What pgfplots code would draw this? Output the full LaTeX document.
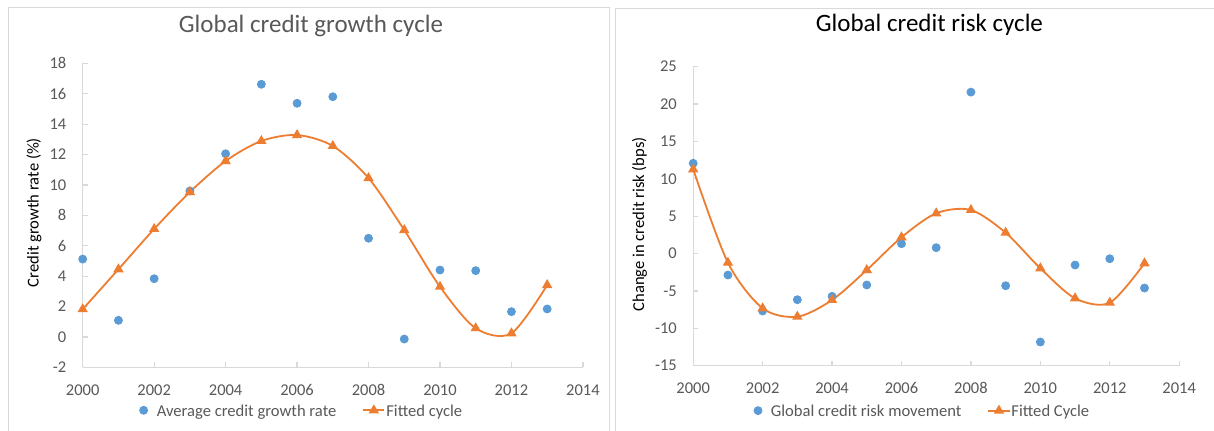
\documentclass[border=0pt]{standalone}
\usepackage{pgfplots}
\pgfplotsset{compat=1.18}
\usepackage{fontspec}
\setmainfont{Carlito}
\definecolor{cblue}{HTML}{5B9BD5}
\definecolor{corange}{HTML}{ED7D31}
\definecolor{tgray}{HTML}{595959}
\definecolor{lgray}{HTML}{D9D9D9}
\pgfplotsset{
  excel/.style={
    scale only axis,
    axis lines*=left,
    axis line style={lgray, line width=0.6pt},
    tick style={lgray, line width=0.6pt},
    tick align=inside,
    major tick length=2.5pt,
    xmin=2000, xmax=2014,
    xtick={2000,2002,...,2014},
    xticklabels={2000,2002,2004,2006,2008,2010,2012,2014},
    ticklabel style={font=\fontsize{8.25}{10}\selectfont, text=tgray},
    xticklabel style={anchor=base, inner sep=0pt, yshift=-13.85pt},
    yticklabel style={anchor=east, inner sep=0pt, xshift=-8pt},
    label style={font=\fontsize{8.3}{10}\selectfont, text=black},
    title style={font=\fontsize{12.5}{15}\selectfont, anchor=base, inner sep=0pt},
    ylabel style={anchor=base, inner sep=0pt},
    legend style={draw=none, fill=none, inner sep=0pt, anchor=west,
      legend columns=-1, font=\fontsize{8.3}{10}\selectfont, text=tgray,
      nodes={inner xsep=0.5pt, inner ysep=0pt},
      /tikz/every even column/.append style={column sep=12.5pt}},
    legend cell align=left,
    clip=false,
  },
  dots/.style={only marks, mark=*, mark size=2pt, color=cblue,
    mark options={draw=cblue, fill=cblue}},
  fit/.style={smooth, tension=0.5, line width=0.9pt, color=corange, mark=triangle*, mark size=2.1pt,
    mark options={draw=corange, fill=corange}},
}
\begin{document}
\begin{tikzpicture}
\useasboundingbox (0,0) rectangle (607pt,215pt);
\fill[white] (0,0) rectangle (607pt,215pt);
% chart area frames
\draw[lgray, line width=0.6pt] (4.1pt,-5pt) -- (4.1pt,211.35pt) -- (304.85pt,211.35pt) -- (304.85pt,-5pt);
\draw[lgray, line width=0.6pt] (307.65pt,-5pt) -- (307.65pt,210.65pt) -- (620pt,210.65pt);

\begin{axis}[excel,
  at={(41.35pt,31.35pt)}, anchor=south west,
  width=250.1pt, height=152pt,
  ymin=-2, ymax=18,
  ytick={-2,0,2,4,6,8,10,12,14,16,18},
  yticklabels={-2,0,2,4,6,8,10,12,14,16,18},
  title={Global credit growth cycle},
  title style={at={(axis description cs:0.4564,1.0625)}, text=tgray},
  ylabel={Credit growth rate (\%)},
  ylabel style={at={(axis description cs:-0.0883,0.509)}},
  legend style={at={(axis description cs:0.1122,-0.148)}},
]
\addplot[dots, legend image code/.code={\path (-2pt,0pt) (5.9pt,0pt);
  \draw[cblue, fill=cblue, mark=*, mark size=2pt, only marks] plot coordinates {(0pt,1pt)};}]
 coordinates {(2000,5.12)(2001,1.09)(2002,3.83)(2003,9.6)(2004,12.05)(2005,16.62)(2006,15.37)(2007,15.8)(2008,6.49)(2009,-0.14)(2010,4.4)(2011,4.36)(2012,1.66)(2013,1.84)};
\addlegendentry{Average credit growth rate}
\addplot[fit, legend image code/.code={\draw[corange, line width=0.9pt] (0pt,1pt) -- (10.6pt,1pt);
  \draw[corange, fill=corange, mark=triangle*, mark size=2.1pt, only marks] plot coordinates {(5.3pt,1pt)};}]
 coordinates {(2000,1.82)(2001,4.45)(2002,7.1)(2003,9.53)(2004,11.57)(2005,12.89)(2006,13.28)(2007,12.56)(2008,10.45)(2009,7.03)(2010,3.3)(2011,0.57)(2012,0.24)(2013,3.41)};
\addlegendentry{Fitted cycle}
\end{axis}

\begin{axis}[excel,
  at={(346.6pt,32.15pt)}, anchor=south west,
  width=243pt, height=149.5pt,
  ymin=-15, ymax=25,
  ytick={-15,-10,-5,0,5,10,15,20,25},
  yticklabels={-15,-10,-5,0,5,10,15,20,25},
  title={Global credit risk cycle},
  title style={at={(axis description cs:0.486,1.0783)}, text=black},
  ylabel={Change in credit risk (bps)},
  ylabel style={at={(axis description cs:-0.1008,0.473)}},
  legend style={at={(axis description cs:0.1235,-0.157)}},
]
\addplot[dots, legend image code/.code={\path (-2pt,0pt) (5.75pt,0pt);
  \draw[cblue, fill=cblue, mark=*, mark size=2pt, only marks] plot coordinates {(0pt,1pt)};}]
 coordinates {(2000,12.08)(2001,-2.87)(2002,-7.68)(2003,-6.17)(2004,-5.72)(2005,-4.2)(2006,1.32)(2007,0.79)(2008,21.6)(2009,-4.3)(2010,-11.83)(2011,-1.53)(2012,-0.69)(2013,-4.61)};
\addlegendentry{Global credit risk movement}
\addplot[fit, legend image code/.code={\draw[corange, line width=0.9pt] (0pt,1pt) -- (10.6pt,1pt);
  \draw[corange, fill=corange, mark=triangle*, mark size=2.1pt, only marks] plot coordinates {(5.3pt,1pt)};}]
 coordinates {(2000,11.27)(2001,-1.22)(2002,-7.32)(2003,-8.44)(2004,-6.21)(2005,-2.2)(2006,2.18)(2007,5.39)(2008,5.83)(2009,2.79)(2010,-1.97)(2011,-5.98)(2012,-6.57)(2013,-1.3)};
\addlegendentry{Fitted Cycle}
\end{axis}
\end{tikzpicture}
\end{document}
